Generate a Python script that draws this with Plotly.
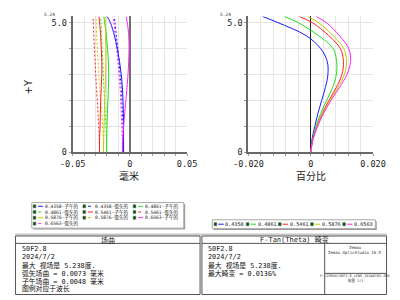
import plotly.graph_objects as go

# ---------------- data ----------------
field = [0, 0.5, 1, 1.5, 2, 2.5, 3, 3.5, 4, 4.5, 5, 5.24]
wavelengths = ["0.4358", "0.4861", "0.5461", "0.5876", "0.6563"]
colors = ["#1a1aff", "#22e022", "#ff2020", "#c8c800", "#ff22ff"]

# field curvature, tangential (子午) [mm]
tan_0_4358 = [-0.0055, -0.0055, -0.0055, -0.0056, -0.0060, -0.0065, -0.0075, -0.0090, -0.0110, -0.0135, -0.0170, -0.0200]
tan_0_4861 = [-0.0203, -0.0202, -0.0200, -0.0196, -0.0192, -0.0187, -0.0185, -0.0187, -0.0195, -0.0205, -0.0220, -0.0228]
tan_0_5461 = [-0.0265, -0.0265, -0.0260, -0.0258, -0.0255, -0.0250, -0.0245, -0.0245, -0.0250, -0.0255, -0.0265, -0.0270]
tan_0_5876 = [-0.0230, -0.0229, -0.0226, -0.0223, -0.0220, -0.0215, -0.0212, -0.0210, -0.0210, -0.0212, -0.0215, -0.0218]
tan_0_6563 = [-0.0065, -0.0063, -0.0055, -0.0045, -0.0035, -0.0025, -0.0016, -0.0010, -0.0007, -0.0010, -0.0022, -0.0033]
# field curvature, sagittal (弧矢) [mm]
sag_0_4358 = [-0.0055, -0.0056, -0.0060, -0.0065, -0.0070, -0.0075, -0.0085, -0.0095, -0.0105, -0.0118, -0.0130, -0.0138]
sag_0_4861 = [-0.0203, -0.0205, -0.0210, -0.0215, -0.0220, -0.0227, -0.0232, -0.0237, -0.0242, -0.0247, -0.0252, -0.0255]
sag_0_5461 = [-0.0265, -0.0267, -0.0272, -0.0278, -0.0285, -0.0292, -0.0298, -0.0304, -0.0310, -0.0315, -0.0320, -0.0322]
sag_0_5876 = [-0.0230, -0.0232, -0.0238, -0.0245, -0.0255, -0.0265, -0.0272, -0.0278, -0.0284, -0.0290, -0.0294, -0.0296]
sag_0_6563 = [-0.0065, -0.0066, -0.0070, -0.0075, -0.0080, -0.0086, -0.0095, -0.0105, -0.0115, -0.0128, -0.0140, -0.0148]
# F-Tan(Theta) distortion [%]
dist_0_4358 = [0, 0.0004, 0.0013, 0.0023, 0.0035, 0.0047, 0.0055, 0.0053, 0.0032, -0.0015, -0.0105, -0.0155]
dist_0_4861 = [0, 0.0006, 0.0017, 0.0032, 0.0051, 0.0070, 0.0082, 0.0083, 0.0072, 0.0025, -0.0040, -0.0085]
dist_0_5461 = [0, 0.0007, 0.0020, 0.0037, 0.0058, 0.0082, 0.0100, 0.0105, 0.0095, 0.0058, 0.0005, -0.0037]
dist_0_5876 = [0, 0.0007, 0.0021, 0.0039, 0.0062, 0.0087, 0.0108, 0.0115, 0.0106, 0.0072, 0.0025, -0.0010]
dist_0_6563 = [0, 0.0007, 0.0022, 0.0041, 0.0065, 0.0092, 0.0116, 0.0128, 0.0122, 0.0092, 0.0050, 0.0017]

tangential = [tan_0_4358, tan_0_4861, tan_0_5461, tan_0_5876, tan_0_6563]
sagittal = [sag_0_4358, sag_0_4861, sag_0_5461, sag_0_5876, sag_0_6563]
distortion = [dist_0_4358, dist_0_4861, dist_0_5461, dist_0_5876, dist_0_6563]

left_x_ticks = [-0.05, -0.04, -0.03, -0.02, -0.01, 0, 0.01, 0.02, 0.03, 0.04, 0.05]
left_x_text = ["-0.05", "", "", "", "", "0", "", "", "", "", "0.05"]
right_x_ticks = [-0.02, -0.016, -0.012, -0.008, -0.004, 0, 0.004, 0.008, 0.012, 0.016, 0.02]
right_x_text = ["-0.020", "", "", "", "", "0", "", "", "", "", "0.020"]
y_ticks = [0, 1, 2, 3, 4, 5]
y_text = ["0", "", "", "", "", "5.0"]

left_title = "场曲"
right_title = "F-Tan(Theta) 畸变"
left_info = ["50F2.8", "2024/7/2", "最大 视场是 5.238度.", "弧矢场曲 = 0.0073 毫米", "子午场曲 = 0.0048 毫米", "图例对应于波长"]
right_info = ["50F2.8", "2024/7/2", "最大 视场是 5.238度.", "最大畸变 = 0.0136%"]

# ---------------- figure ----------------
MONO = "DejaVu Sans Mono, Noto Sans CJK SC"
CJK = "Noto Sans CJK SC, DejaVu Sans"
fig = go.Figure()

for i, w in enumerate(wavelengths):
    fig.add_trace(go.Scatter(x=sagittal[i], y=field, mode="lines", xaxis="x", yaxis="y",
                             line=dict(color=colors[i], width=1, dash="2px,2px", shape="spline"),
                             name=w + "-弧矢的"))
for i, w in enumerate(wavelengths):
    fig.add_trace(go.Scatter(x=tangential[i], y=field, mode="lines", xaxis="x", yaxis="y",
                             line=dict(color=colors[i], width=1, shape="spline"),
                             name=w + "-子午的"))
for i, w in enumerate(wavelengths):
    fig.add_trace(go.Scatter(x=distortion[i], y=field, mode="lines", xaxis="x2", yaxis="y2",
                             line=dict(color=colors[i], width=1, shape="spline"), name=w))


def px(x):
    return x / 400.0


def py(y):
    return 1 - y / 300.0


GRID = "#e6e6e6"
AX = "#6a6a6a"
ydom = [py(155), py(16.7)]

common_x = dict(showgrid=True, gridcolor=GRID, gridwidth=1, showline=True, linecolor=AX, linewidth=2,
                ticks="outside", ticklen=2, tickcolor="#999", tickfont=dict(family=MONO, size=8.5, color="#222"),
                zeroline=True, fixedrange=True)
common_y = dict(showgrid=True, gridcolor=GRID, gridwidth=1, showline=True, linecolor=AX, linewidth=2,
                ticks="outside", ticklen=2, tickcolor="#999", tickfont=dict(family=MONO, size=8.5, color="#222"),
                zeroline=False, range=[0, 5.24], domain=ydom, tickmode="array",
                tickvals=y_ticks, ticktext=y_text, fixedrange=True)

fig.update_layout(
    width=400, height=300, margin=dict(l=0, r=0, t=0, b=0),
    paper_bgcolor="white", plot_bgcolor="white", showlegend=False,
    xaxis=dict(common_x, domain=[px(62), px(185)], range=[-0.05, 0.05], tickmode="array",
               tickvals=left_x_ticks, ticktext=left_x_text, anchor="y",
               zerolinecolor="#707070", zerolinewidth=2),
    yaxis=dict(common_y, anchor="x"),
    xaxis2=dict(common_x, domain=[px(251), px(385)], range=[-0.02, 0.02], tickmode="array",
                tickvals=right_x_ticks, ticktext=right_x_text, anchor="y2",
                zerolinecolor="#222", zerolinewidth=1),
    yaxis2=dict(common_y, anchor="x2"),
)

shapes = []
ann = []


def text(x, y, t, size, family=MONO, xanchor="center", color="#222", angle=0):
    ann.append(dict(x=px(x), y=py(y), text=t, showarrow=False, xref="paper", yref="paper",
                    xanchor=xanchor, yanchor="middle", textangle=angle,
                    borderpad=0, font=dict(family=family, size=size, color=color)))


# axis titles and small labels
text(15, 88, "+Y", 10, family="DejaVu Sans", angle=-90)
text(123, 178, "毫米", 10, family=CJK)
text(318, 178, "百分比", 10, family=CJK)
text(44, 15, "5.24", 4.5, xanchor="right", color="#333")
text(233, 15, "5.24", 4.5, xanchor="right", color="#333")


def legend_entry(x, y, color, dash, label, fsize=4.6, lx0=5.4, lx1=10.7, tx=11.7):
    shapes.append(dict(type="rect", xref="paper", yref="paper", x0=px(x), x1=px(x + 3),
                       y0=py(y + 1.6), y1=py(y - 1.6), fillcolor="#1f3a1f", line=dict(color="#5a9a5a", width=0.6)))
    shapes.append(dict(type="line", xref="paper", yref="paper", x0=px(x + lx0), x1=px(x + lx1),
                       y0=py(y), y1=py(y), line=dict(color=color, width=1, dash=dash)))
    text(x + tx, y, label, fsize, xanchor="left")


# left legend box
shapes.append(dict(type="rect", xref="paper", yref="paper", x0=px(19.5), x1=px(183), y0=py(233.5), y1=py(207.5),
                   fillcolor="#9a9a9a", line=dict(width=0)))
shapes.append(dict(type="rect", xref="paper", yref="paper", x0=px(18), x1=px(181.5), y0=py(232), y1=py(206),
                   fillcolor="white", line=dict(color="#aaaaaa", width=1)))
entries = []
for i, w in enumerate(wavelengths):
    entries.append((colors[i], "solid", w + "-子午的"))
    entries.append((colors[i], "dot", w + "-弧矢的"))
col_x = [19.5, 73, 127]
row_y = [209.8, 215.6, 221.4, 227.4]
for k, (c, d, lab) in enumerate(entries):
    legend_entry(col_x[k % 3], row_y[k // 3], c, d, lab)

# right legend box
shapes.append(dict(type="rect", xref="paper", yref="paper", x0=px(213.5), x1=px(389), y0=py(234), y1=py(225),
                   fillcolor="#9a9a9a", line=dict(width=0)))
shapes.append(dict(type="rect", xref="paper", yref="paper", x0=px(212), x1=px(387.5), y0=py(232.5), y1=py(223.5),
                   fillcolor="white", line=dict(color="#aaaaaa", width=1)))
for i, w in enumerate(wavelengths):
    legend_entry(214 + i * 34.6, 228, colors[i], "solid", w, fsize=5.2, lx0=4.5, lx1=10.5, tx=11.2)

# separator
shapes.append(dict(type="line", xref="paper", yref="paper", x0=0, x1=1, y0=py(238.5), y1=py(238.5),
                   line=dict(color="#c8c8c8", width=2)))

# bottom boxes
BOX = "#555555"
for (x0, x1) in ((0.5, 199), (201, 399.5)):
    shapes.append(dict(type="rect", xref="paper", yref="paper", x0=px(x0), x1=px(x1), y0=py(299.5), y1=py(240),
                       line=dict(color=BOX, width=1)))
    shapes.append(dict(type="line", xref="paper", yref="paper", x0=px(x0), x1=px(x1), y0=py(247.5), y1=py(247.5),
                       line=dict(color=BOX, width=1)))
shapes.append(dict(type="line", xref="paper", yref="paper", x0=px(333), x1=px(333), y0=py(247.5), y1=py(299.5),
                   line=dict(color=BOX, width=1)))
shapes.append(dict(type="line", xref="paper", yref="paper", x0=px(333), x1=px(399.5), y0=py(278), y1=py(278),
                   line=dict(color=BOX, width=1)))

text(100, 243.8, left_title, 7, family=CJK)
text(300, 243.8, right_title, 7)
for t, yy in zip(left_info, [253, 261, 270.5, 278.5, 285.8, 293]):
    text(6, yy, t, 6.8, xanchor="left", color="#111")
for t, yy in zip(right_info, [253, 261, 270, 278.5]):
    text(206, yy, t, 6.8, xanchor="left", color="#111")
for t, yy in zip(["Zemax", "Zemax OpticStudio 16.5"], [252, 256.5]):
    text(366, yy, t, 4, color="#333")
for t, yy in zip(["F:\\ZEMAX\\50F2.8_LENS_20240702.ZMX", "配置 1/1"], [280.5, 285]):
    text(366, yy, t, 3.5, color="#333")

fig.update_layout(shapes=shapes, annotations=ann)
fig.write_html("out.html")
